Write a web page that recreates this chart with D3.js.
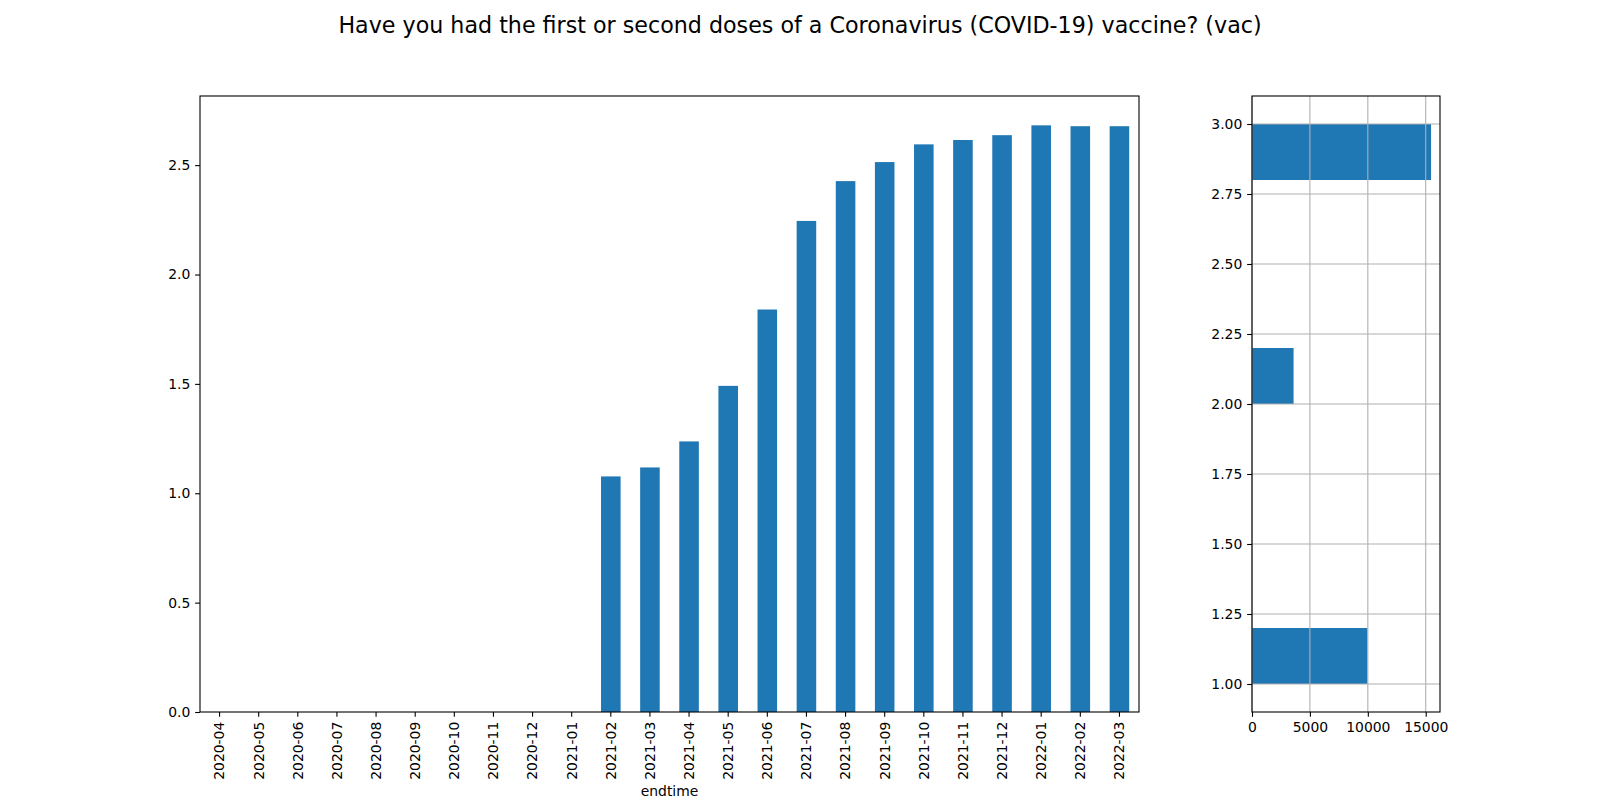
<!DOCTYPE html>
<html>
<head>
<meta charset="utf-8">
<script src="https://cdn.jsdelivr.net/npm/d3@7"></script>
<style>
  html, body { margin: 0; padding: 0; background: #fff; }
  svg { display: block; font-family: "DejaVu Sans", sans-serif; }
</style>
</head>
<body>
<svg id="chart" width="1600" height="800"></svg>
<script>
// ---- data ----
const months = ["2020-04","2020-05","2020-06","2020-07","2020-08","2020-09","2020-10","2020-11","2020-12","2021-01",
                "2021-02","2021-03","2021-04","2021-05","2021-06","2021-07","2021-08","2021-09","2021-10","2021-11",
                "2021-12","2022-01","2022-02","2022-03"];
const meanValues = [null,null,null,null,null,null,null,null,null,null,
                    1.077,1.118,1.237,1.491,1.840,2.245,2.427,2.514,2.595,2.615,
                    2.637,2.682,2.678,2.678];
const leftTicks = [0, 0.5, 1.0, 1.5, 2.0, 2.5];

const histBinStart = [1.0, 2.0, 2.8];
const histBinEnd   = [1.2, 2.2, 3.0];
const histCounts   = [9970, 3590, 15460];
const rightYTicks = [1.00, 1.25, 1.50, 1.75, 2.00, 2.25, 2.50, 2.75, 3.00];
const rightXTicks = [0, 5000, 10000, 15000];

const titleText = "Have you had the first or second doses of a Coronavirus (COVID-19) vaccine? (vac)";
const xLabel = "endtime";

// ---- layout ----
const svg = d3.select("#chart");
const barColor = "#1f77b4";
const L = {x0: 200, x1: 1139, y0: 96, y1: 712};
const R = {x0: 1252, x1: 1440, y0: 96, y1: 712};
const FS = 13.9, TL = 4.86, TP = 4.86, LW = 1.1;

svg.append("text")
  .attr("x", 800).attr("y", 33)
  .attr("text-anchor", "middle")
  .attr("font-size", 22.2)
  .attr("fill", "#000")
  .text(titleText);

// ---- left panel ----
const maxVal = d3.max(meanValues);
const xL = d3.scaleBand().domain(months).range([L.x0, L.x1]).paddingInner(0).paddingOuter(0);
const yL = d3.scaleLinear().domain([0, maxVal * 1.05]).range([L.y1, L.y0]);

const gL = svg.append("g");
gL.selectAll("rect.bar")
  .data(months.map((m, i) => ({m, v: meanValues[i]})).filter(d => d.v != null))
  .enter().append("rect")
  .attr("class", "bar")
  .attr("x", d => xL(d.m) + xL.bandwidth() * 0.25)
  .attr("width", xL.bandwidth() * 0.5)
  .attr("y", d => yL(d.v))
  .attr("height", d => yL(0) - yL(d.v))
  .attr("fill", barColor);

const axLeft = gL.append("g")
  .attr("transform", `translate(${L.x0},0)`)
  .call(d3.axisLeft(yL).tickValues(leftTicks).tickFormat(d3.format(".1f")).tickSize(TL).tickPadding(TP));
const axBottom = gL.append("g")
  .attr("transform", `translate(0,${L.y1})`)
  .call(d3.axisBottom(xL).tickSize(TL).tickPadding(TP));
axBottom.selectAll("text")
  .attr("transform", "rotate(-90)")
  .attr("text-anchor", "end")
  .attr("x", -(TL + TP)).attr("y", 0)
  .attr("dy", "0.35em");

[axLeft, axBottom].forEach(a => {
  a.select(".domain").remove();
  a.selectAll("text").attr("font-size", FS).attr("fill", "#000").attr("font-family", "DejaVu Sans");
  a.selectAll("line").attr("stroke", "#000").attr("stroke-width", LW);
});

gL.append("rect")
  .attr("x", L.x0).attr("y", L.y0)
  .attr("width", L.x1 - L.x0).attr("height", L.y1 - L.y0)
  .attr("fill", "none").attr("stroke", "#000").attr("stroke-width", LW);

svg.append("text")
  .attr("x", (L.x0 + L.x1) / 2).attr("y", 796)
  .attr("text-anchor", "middle")
  .attr("font-size", FS)
  .text(xLabel);

// ---- right panel (histogram) ----
const xR = d3.scaleLinear().domain([0, d3.max(histCounts) * 1.05]).range([R.x0, R.x1]);
const yR = d3.scaleLinear().domain([0.9, 3.1]).range([R.y1, R.y0]);
const gR = svg.append("g");

gR.selectAll("rect.hbar")
  .data(histCounts.map((c, i) => ({c, a: histBinStart[i], b: histBinEnd[i]})))
  .enter().append("rect")
  .attr("class", "hbar")
  .attr("x", xR(0))
  .attr("width", d => xR(d.c) - xR(0))
  .attr("y", d => yR(d.b))
  .attr("height", d => yR(d.a) - yR(d.b))
  .attr("fill", barColor);

// grid on top of bars
gR.selectAll("line.gx").data(rightXTicks).enter().append("line")
  .attr("x1", d => xR(d)).attr("x2", d => xR(d))
  .attr("y1", R.y0).attr("y2", R.y1)
  .attr("stroke", "#b0b0b0").attr("stroke-width", LW);
gR.selectAll("line.gy").data(rightYTicks).enter().append("line")
  .attr("x1", R.x0).attr("x2", R.x1)
  .attr("y1", d => yR(d)).attr("y2", d => yR(d))
  .attr("stroke", "#b0b0b0").attr("stroke-width", LW);

const axRL = gR.append("g")
  .attr("transform", `translate(${R.x0},0)`)
  .call(d3.axisLeft(yR).tickValues(rightYTicks).tickFormat(d3.format(".2f")).tickSize(TL).tickPadding(TP));
const axRB = gR.append("g")
  .attr("transform", `translate(0,${R.y1})`)
  .call(d3.axisBottom(xR).tickValues(rightXTicks).tickFormat(d3.format("d")).tickSize(TL).tickPadding(TP));
[axRL, axRB].forEach(a => {
  a.select(".domain").remove();
  a.selectAll("text").attr("font-size", FS).attr("fill", "#000").attr("font-family", "DejaVu Sans");
  a.selectAll("line").attr("stroke", "#000").attr("stroke-width", LW);
});

gR.append("rect")
  .attr("x", R.x0).attr("y", R.y0)
  .attr("width", R.x1 - R.x0).attr("height", R.y1 - R.y0)
  .attr("fill", "none").attr("stroke", "#000").attr("stroke-width", LW);
</script>
</body>
</html>
